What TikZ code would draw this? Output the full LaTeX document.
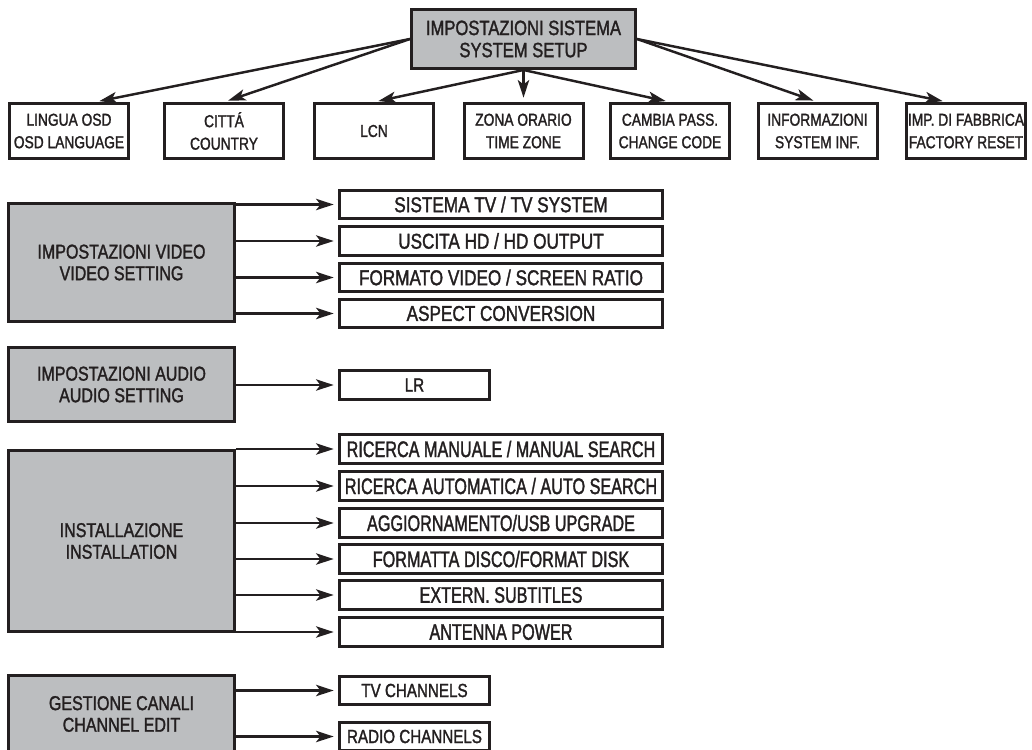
\documentclass[tikz,border=0pt]{standalone}
\usepackage{fontspec}
\setmainfont{Liberation Sans}[FakeStretch=0.8, FakeBold=1.5]
\newfontfamily\narrowfont{Liberation Sans}[FakeStretch=0.72, FakeBold=1.5]
\usepackage{tikz}
\usetikzlibrary{arrows.meta, positioning, calc}
\usepackage{xcolor}
\definecolor{menufill}{RGB}{188, 190, 192}
\definecolor{menuline}{RGB}{35, 31, 32}

\begin{document}
\begin{tikzpicture}[
    menu/.style={rectangle, draw=menuline, fill=menufill, line width=1.7pt, text=menuline,
                 align=center, minimum width=4.52cm, inner sep=2pt,
                 font=\fontsize{11.4}{12.3}\selectfont},
    item/.style={rectangle, draw=menuline, fill=white, line width=1.7pt, text=menuline,
                 align=center, minimum height=0.57cm, inner sep=1pt,
                 font=\fontsize{12.2}{12}\selectfont},
    topitem/.style={item, minimum width=2.38cm, minimum height=1.10cm,
                    font=\fontsize{9.8}{12.8}\selectfont},
    wideitem/.style={item, minimum width=6.46cm},
    installitem/.style={wideitem, font=\narrowfont\fontsize{12.8}{12}\selectfont},
    shortitem/.style={item, minimum width=3cm, font=\fontsize{10.8}{12}\selectfont},
    link/.style={-{Stealth[length=10pt, width=6.5pt, inset=2.5pt]}, line width=1.4pt,
                 draw=menuline, shorten >=2.5pt}
]
\useasboundingbox (0,0) rectangle (20.64,-14.98);
\clip (0,0) rectangle (20.64,-14.98);

% System setup
\node[menu, minimum width=4.48cm, minimum height=1.18cm, font=\fontsize{11.8}{12.6}\selectfont]
    (sys) at (10.47,-0.78) {IMPOSTAZIONI SISTEMA\\SYSTEM SETUP};
\node[topitem] (lingua) at (1.38,-2.62) {LINGUA OSD\\OSD LANGUAGE};
\node[topitem] (citta)  at (4.48,-2.62) {CITTÁ\\COUNTRY};
\node[topitem] (lcn)    at (7.48,-2.62) {LCN};
\node[topitem] (zona)   at (10.47,-2.62) {ZONA ORARIO\\TIME ZONE};
\node[topitem] (cambia) at (13.40,-2.62) {CAMBIA PASS.\\CHANGE CODE};
\node[topitem] (info)   at (16.35,-2.62) {INFORMAZIONI\\SYSTEM INF.};
\node[topitem] (reset)  at (19.32,-2.62) {IMP. DI FABBRICA\\FACTORY RESET};

\draw[link] (sys.west) -- ([xshift=0.52cm]lingua.north);
\draw[link] (sys.west) -- (citta.north);
\draw[link] (sys.south) -- (lcn.north);
\draw[link] (sys.south) -- (zona.north);
\draw[link] (sys.south) -- (cambia.north);
\draw[link] (sys.east) -- (info.north);
\draw[link] (sys.east) -- ([xshift=-0.38cm]reset.north);

% Video setting
\node[menu, minimum height=2.36cm] (video) at (2.43,-5.25) {IMPOSTAZIONI VIDEO\\VIDEO SETTING};
\node[wideitem] (tvsys)  at (10.02,-4.09) {SISTEMA TV / TV SYSTEM};
\node[wideitem] (hdout)  at (10.02,-4.82) {USCITA HD / HD OUTPUT};
\node[wideitem] (ratio)  at (10.02,-5.55) {FORMATO VIDEO / SCREEN RATIO};
\node[wideitem] (aspect) at (10.02,-6.27) {ASPECT CONVERSION};

\foreach \n in {tvsys,hdout,ratio,aspect}
    \draw[link] (video.east |- \n.west) -- (\n.west);

% Audio setting
\node[menu, minimum height=1.48cm] (audio) at (2.43,-7.69) {IMPOSTAZIONI AUDIO\\AUDIO SETTING};
\node[shortitem] (lr) at (8.29,-7.70) {LR};
\draw[link] (audio.east |- lr.west) -- (lr.west);

% Installation
\node[menu, minimum height=3.62cm] (install) at (2.43,-10.82) {INSTALLAZIONE\\INSTALLATION};
\node[installitem] (manual)  at (10.02,-8.98) {RICERCA MANUALE / MANUAL SEARCH};
\node[installitem] (auto)    at (10.02,-9.72) {RICERCA AUTOMATICA / AUTO SEARCH};
\node[installitem] (usb)     at (10.02,-10.46) {AGGIORNAMENTO/USB UPGRADE};
\node[installitem] (disk)    at (10.02,-11.18) {FORMATTA DISCO/FORMAT DISK};
\node[installitem] (subt)    at (10.02,-11.90) {EXTERN. SUBTITLES};
\node[installitem] (antenna) at (10.02,-12.64) {ANTENNA POWER};

\foreach \n in {manual,auto,usb,disk,subt,antenna}
    \draw[link] (install.east |- \n.west) -- (\n.west);

% Channel edit
\node[menu, minimum height=1.56cm] (chan) at (2.43,-14.28) {GESTIONE CANALI\\CHANNEL EDIT};
\node[shortitem] (tvch)  at (8.29,-13.81) {TV CHANNELS};
\node[shortitem] (radio) at (8.29,-14.73) {RADIO CHANNELS};

\foreach \n in {tvch,radio}
    \draw[link] (chan.east |- \n.west) -- (\n.west);

\end{tikzpicture}
\end{document}
